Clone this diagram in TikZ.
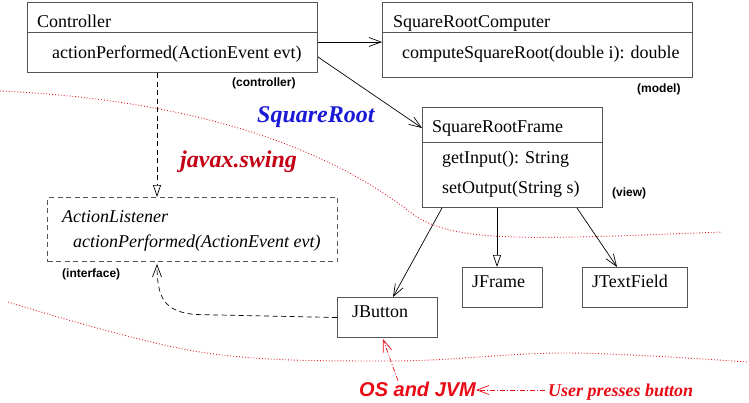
\documentclass[tikz,border=0pt]{standalone}
\usepackage{fontspec}
\setmainfont{Liberation Serif}
\setsansfont{Liberation Sans}
\usetikzlibrary{arrows.meta,calc}
\definecolor{boxgray}{RGB}{85,85,85}
\definecolor{pkgblue}{RGB}{25,25,215}
\definecolor{pkgred}{RGB}{195,0,20}
\definecolor{osred}{RGB}{232,10,20}
\definecolor{dotred}{RGB}{220,30,40}
\begin{document}
\begin{tikzpicture}[x=1pt,y=-1pt,
  cls/.style={draw=boxgray, line width=1pt, rectangle, inner sep=0pt, anchor=north west},
  txt/.style={anchor=base west, inner sep=0pt, font=\fontsize{18}{20}\selectfont},
  itxt/.style={anchor=base west, inner sep=0pt, font=\fontsize{18}{20}\selectfont\itshape},
  tag/.style={anchor=base west, inner sep=0pt, font=\sffamily\bfseries\fontsize{12}{14}\selectfont},
  assoc/.style={-{Straight Barb[length=12pt,width=9pt]}, line width=0.7pt},
  inherit/.style={-{Triangle[open,length=12pt,width=8pt]}, line width=0.7pt},
  dashpat/.style={dash pattern=on 5pt off 3.5pt},
  dashdotpat/.style={dash pattern=on 5pt off 2pt on 1pt off 2pt},
  reddot/.style={draw=dotred, line width=0.9pt, dash pattern=on 0.9pt off 2pt}
]
\useasboundingbox (0,0) rectangle (749,402);

% package boundaries
\draw[reddot] (0,91) .. controls (200,100) and (330,150) .. (410,212) .. controls (450,243) and (520,240) .. (722,232);
\draw[reddot] plot[smooth, tension=0.6] coordinates {(8,302) (200,352) (390,361) (567,353) (747,362)};

% classes
\node[cls, minimum width=290pt, minimum height=70pt] (ctrl) at (27,2) {};
\draw[draw=boxgray, line width=1pt] ($(ctrl.north west)+(0,30)$) -- ($(ctrl.north east)+(0,30)$);
\node[txt] (ctrlT) at (37,27) {Controller};
\node[txt] (ctrlM) at (52,58) {actionPerformed(ActionEvent evt)};

\node[cls, minimum width=310pt, minimum height=75pt] (src) at (382,2) {};
\draw[draw=boxgray, line width=1pt] ($(src.north west)+(0,30)$) -- ($(src.north east)+(0,30)$);
\node[txt] (srcT) at (393,27) {SquareRootComputer};
\node[txt] (srcM) at (402,58) {computeSquareRoot(double i): double};

\node[cls, minimum width=180pt, minimum height=100pt] (srf) at (422,107) {};
\draw[draw=boxgray, line width=1pt] ($(srf.north west)+(0,35)$) -- ($(srf.north east)+(0,35)$);
\node[txt] (srfT) at (432,132) {SquareRootFrame};
\node[txt] (srfM1) at (442,163) {getInput(): String};
\node[txt] (srfM2) at (442,193) {setOutput(String s)};

\node[cls, dashpat, minimum width=290pt, minimum height=64pt] (al) at (47,197) {};
\node[itxt] (alT) at (62,222) {ActionListener};
\node[itxt] (alM) at (73,247) {actionPerformed(ActionEvent evt)};

\node[cls, minimum width=100pt, minimum height=40pt] (jb) at (337,297) {};
\node[txt] (jbT) at (352,317) {JButton};
\node[cls, minimum width=80pt, minimum height=40pt] (jf) at (462,267) {};
\node[txt] (jfT) at (472,287) {JFrame};
\node[cls, minimum width=105pt, minimum height=40pt] (jt) at (582,267) {};
\node[txt] (jtT) at (592,287) {JTextField};

% tags
\node[tag] (tctrl) at (232,86) {(controller)};
\node[tag] (tmodel) at (637,92) {(model)};
\node[tag] (tview) at (612,196) {(view)};
\node[tag] (tiface) at (62,277) {(interface)};

% package names
\node[anchor=base west, inner sep=0pt, text=pkgblue, font=\fontsize{24}{28}\selectfont\bfseries\itshape] (pkgSR) at (257,122) {SquareRoot};
\node[anchor=base west, inner sep=0pt, text=pkgred, font=\fontsize{24}{28}\selectfont\bfseries\itshape] (pkgSW) at (180,167) {javax.swing};
\node[anchor=base west, inner sep=0pt, text=osred, font=\sffamily\fontsize{20}{24}\selectfont\bfseries\itshape] (os) at (359,396) {OS and JVM};
\node[anchor=base west, inner sep=0pt, text=osred, font=\fontsize{18}{22}\selectfont\bfseries\itshape] (user) at (548,396) {User presses button};

% connectors
\draw[assoc] ($(ctrl.north east)+(0,40)$) -- ($(src.north west)+(0,40)$);
\draw[assoc] ($(ctrl.north east)+(0,55)$) -- ($(srf.north west)+(0,21)$);
\draw[inherit, dashpat] ($(ctrl.south west)+(130,0)$) -- ($(al.north west)+(110,0)$);
\draw[assoc, dashpat] (jb.west) -- ++(-142,-3) .. controls +(-30,-3) and +(0,35) .. ($(al.south west)+(110,2)$);
\draw[assoc] ($(srf.south west)+(20,0)$) -- ($(jb.north west)+(56,0)$);
\draw[inherit] ($(srf.south west)+(75,0)$) -- ($(jf.north west)+(35,0)$);
\draw[assoc] ($(srf.south west)+(155,0)$) -- ($(jt.north west)+(35,0)$);
\draw[assoc, osred, dashdotpat] ($(os.base west)+(39,-15)$) -- ($(jb.south west)+(46,1)$);
\draw[assoc, osred, dashdotpat] ($(user.base west)+(-3,-6)$) -- ($(os.base east)+(0,-6)$);
\end{tikzpicture}
\end{document}
